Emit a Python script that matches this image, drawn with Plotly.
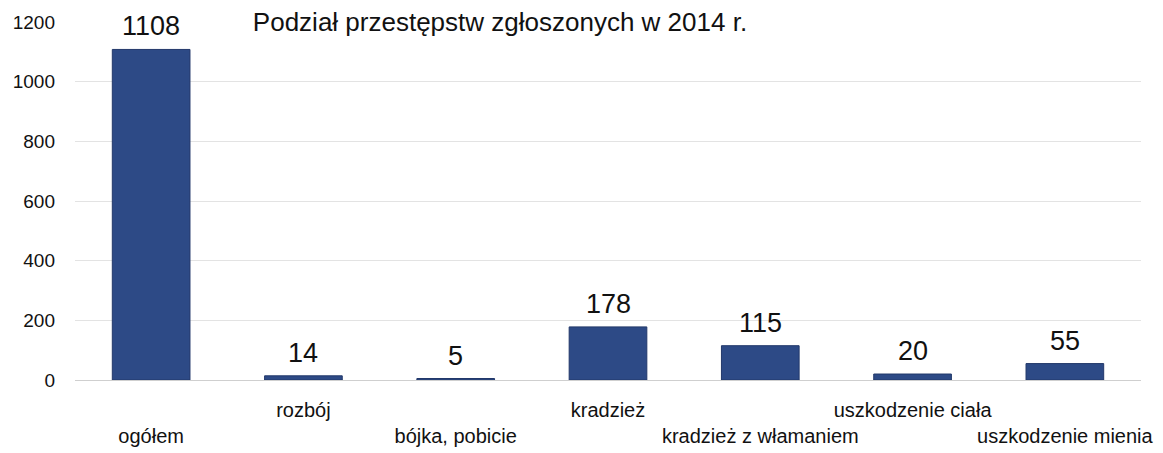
import plotly.graph_objects as go

# dane
categories = ["ogółem", "rozbój", "bójka, pobicie", "kradzież",
              "kradzież z włamaniem", "uszkodzenie ciała", "uszkodzenie mienia"]
counts = [1108, 14, 5, 178, 115, 20, 55]
y_ticks = [0, 200, 400, 600, 800, 1000, 1200]

# etykiety osi X naprzemiennie w dwóch rzędach (jak w Excelu)
tick_text = [("<br>" + c) if i % 2 == 0 else c for i, c in enumerate(categories)]

FONT = "Liberation Sans, Arial, sans-serif"

# strona ma domyślny margines 8px, więc figura jest o 8px mniejsza od okna
W, H = 1155, 445

fig = go.Figure()
fig.add_trace(go.Bar(
    x=categories, y=counts,
    marker=dict(color="#2d4a86", line=dict(color="#22386a", width=1)),
    hoverinfo="x+y",
))

# etykiety wartości nad słupkami
for c, v in zip(categories, counts):
    fig.add_annotation(x=c, y=v, text=str(v), showarrow=False,
                       yanchor="bottom", yshift=6,
                       font=dict(size=27, color="#111111", family=FONT))

fig.update_layout(
    width=W, height=H,
    margin=dict(l=67, r=22, t=14, b=73),
    paper_bgcolor="white", plot_bgcolor="white",
    font=dict(family=FONT, color="#111111"),
    title=dict(text="Podział przestępstw zgłoszonych w 2014 r.",
               font=dict(size=26, family=FONT, color="#111111"),
               x=492 / W, xanchor="center", xref="container",
               y=1 - 14 / H, yanchor="middle", yref="container"),
    bargap=0.49,
    showlegend=False,
    xaxis=dict(tickmode="array", tickvals=categories, ticktext=tick_text,
               tickfont=dict(size=20), tickangle=0, ticks="", ticklabelstandoff=16,
               automargin=False, showline=False, showgrid=False),
    yaxis=dict(range=[0, 1200], tickvals=y_ticks, tickfont=dict(size=19),
               ticks="", ticklabelstandoff=19, automargin=False,
               showgrid=True, gridcolor="#e3e3e3", gridwidth=1,
               zeroline=True, zerolinecolor="#cfcfcf", zerolinewidth=1),
)

fig.write_html("out.html")
